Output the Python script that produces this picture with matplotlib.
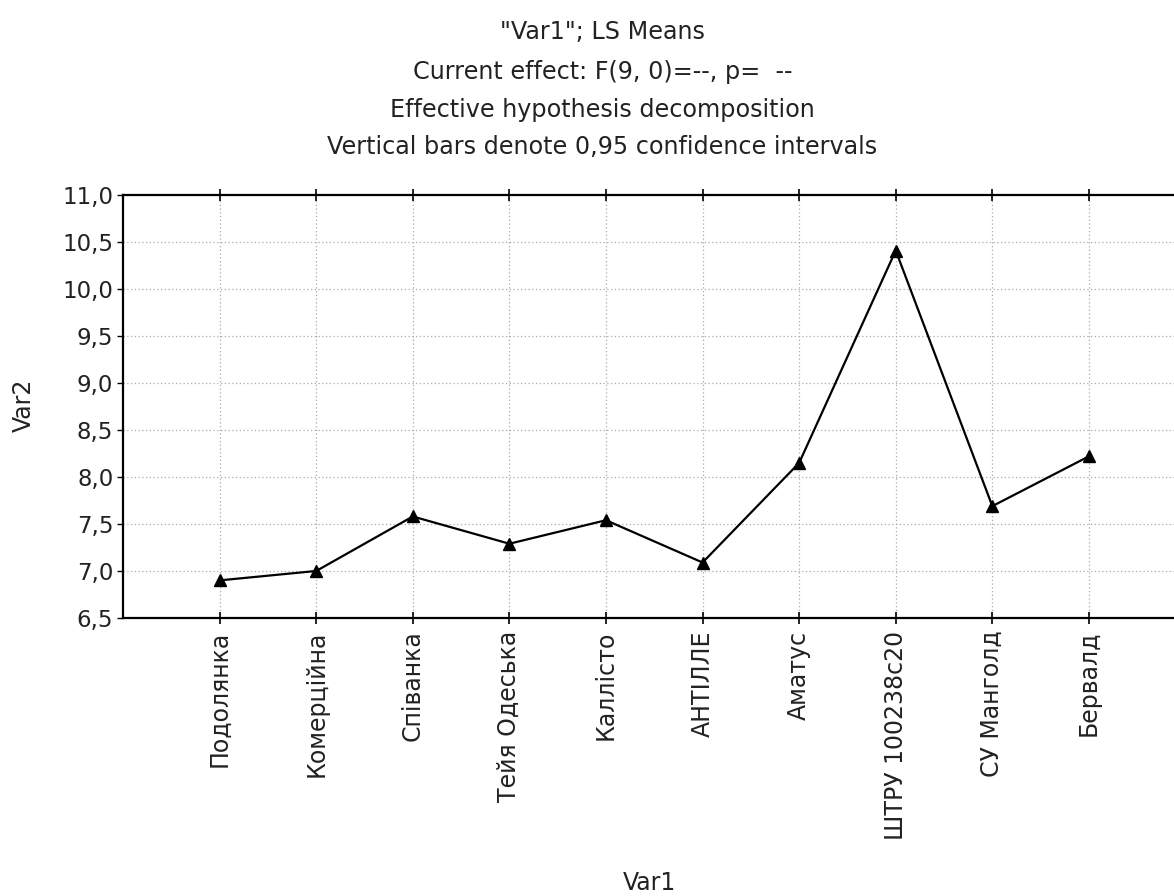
import matplotlib
matplotlib.use("Agg")
import matplotlib.pyplot as plt
from matplotlib.ticker import FuncFormatter

plt.rcParams['font.family'] = ['DejaVu Sans']

categories = ["Подолянка", "Комерційна", "Співанка", "Тейя Одеська", "Каллісто",
              "АНТІЛЛЕ", "Аматус", "ШТРУ 100238с20", "СУ Манголд", "Бервалд"]
means = [6.90, 7.00, 7.58, 7.29, 7.54, 7.09, 8.15, 10.41, 7.69, 8.22]
yticks = [6.5, 7.0, 7.5, 8.0, 8.5, 9.0, 9.5, 10.0, 10.5, 11.0]
title_lines = ['"Var1"; LS Means',
               'Current effect: F(9, 0)=--, p=  --',
               'Effective hypothesis decomposition',
               'Vertical bars denote 0,95 confidence intervals']

fig = plt.figure(figsize=(11.74, 8.96), dpi=100)
# plot area runs past the right edge, like the original screenshot
ax = fig.add_axes([0.1048, 0.3103, 0.905, 0.472])

x = list(range(len(categories)))
ax.plot(x, means, color='black', lw=1.6, marker='^', markersize=8.5,
        markerfacecolor='black', markeredgecolor='black')

ax.set_xlim(-1, 10)
ax.set_ylim(6.5, 11.0)
ax.set_yticks(yticks)
ax.yaxis.set_major_formatter(FuncFormatter(lambda v, p: f"{v:.1f}".replace('.', ',')))
ax.set_xticks(x)
ax.set_xticklabels(categories, rotation=90, fontsize=17, color='#222222')
ax.tick_params(axis='y', labelsize=16.5, labelcolor='#222222', direction='out',
               length=4, width=1, pad=3)
ax.tick_params(axis='x', direction='inout', length=8, width=1.2, pad=5, top=True)

ax.grid(True, linestyle=(0, (1, 2)), color='#aaaaaa', lw=0.9)
for s in ax.spines.values():
    s.set_linewidth(1.6)

fig.text(0.020, 0.548, 'Var2', rotation=90, ha='center', va='center', fontsize=17,
         color='#222222')
fig.text(0.553, 0.0145, 'Var1', ha='center', va='center', fontsize=17,
         color='#222222')

ty = [0.964, 0.920, 0.877, 0.836]
for t, yy in zip(title_lines, ty):
    fig.text(0.513, yy, t, ha='center', va='center', fontsize=17.2, color='#222222')

fig.savefig('out.png', dpi=100)
